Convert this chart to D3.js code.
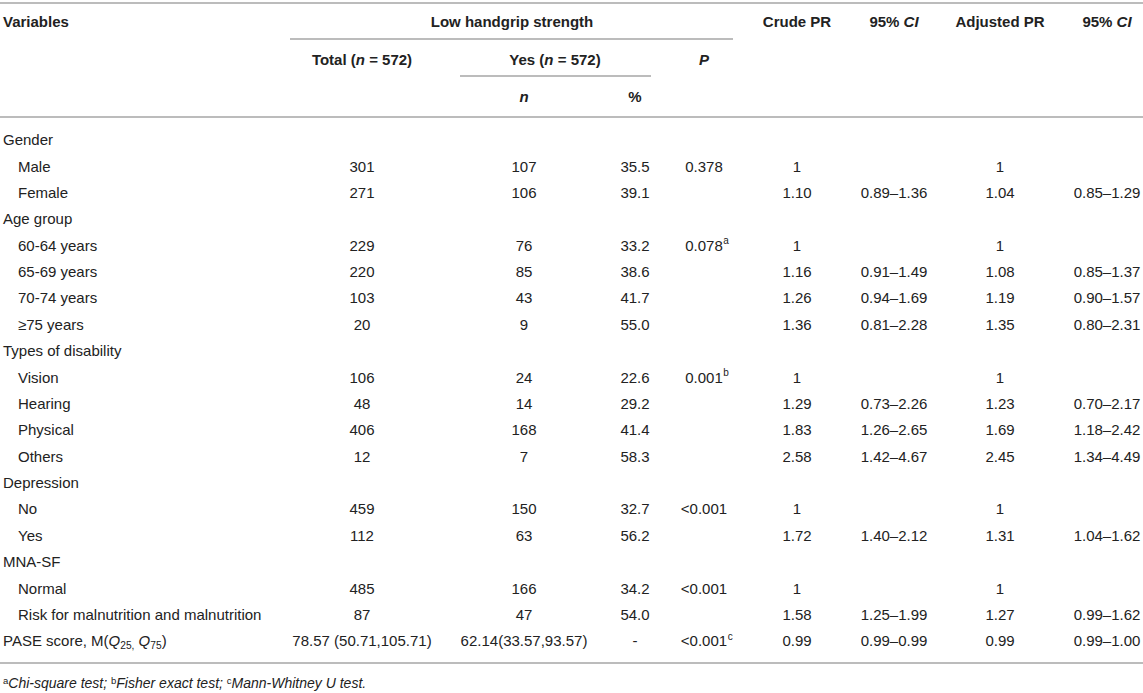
<!DOCTYPE html>
<html lang="en">
<head>
<meta charset="UTF-8">
<title>Low handgrip strength</title>
<script src="https://cdn.jsdelivr.net/npm/d3@7/dist/d3.min.js"></script>
<style>
  body { margin: 0; background: #fff; }
  svg text { font-family: "Liberation Sans", Arial, Helvetica, sans-serif; fill: #222; }
</style>
</head>
<body>
<div class="chart"></div>
<script>
// rows of the table
const labels = ["Gender", "Male", "Female", "Age group", "60-64 years", "65-69 years", "70-74 years", "\u226575 years",
  "Types of disability", "Vision", "Hearing", "Physical", "Others", "Depression", "No", "Yes",
  "MNA-SF", "Normal", "Risk for malnutrition and malnutrition", "PASE"];
const indent = [0, 1, 1, 0, 1, 1, 1, 1, 0, 1, 1, 1, 1, 0, 1, 1, 0, 1, 1, 0];

const total   = ["", "301", "271", "", "229", "220", "103", "20", "", "106", "48", "406", "12", "", "459", "112", "", "485", "87", "78.57 (50.71,105.71)"];
const yesN    = ["", "107", "106", "", "76", "85", "43", "9", "", "24", "14", "168", "7", "", "150", "63", "", "166", "47", "62.14(33.57,93.57)"];
const yesPct  = ["", "35.5", "39.1", "", "33.2", "38.6", "41.7", "55.0", "", "22.6", "29.2", "41.4", "58.3", "", "32.7", "56.2", "", "34.2", "54.0", "-"];
const pValue  = ["", "0.378", "", "", "0.078", "", "", "", "", "0.001", "", "", "", "", "<0.001", "", "", "<0.001", "", "<0.001"];
const pNote   = ["", "", "", "", "a", "", "", "", "", "b", "", "", "", "", "", "", "", "", "", "c"];
const crudePR = ["", "1", "1.10", "", "1", "1.16", "1.26", "1.36", "", "1", "1.29", "1.83", "2.58", "", "1", "1.72", "", "1", "1.58", "0.99"];
const crudeCI = ["", "", "0.89\u20131.36", "", "", "0.91\u20131.49", "0.94\u20131.69", "0.81\u20132.28", "", "", "0.73\u20132.26", "1.26\u20132.65", "1.42\u20134.67", "", "", "1.40\u20132.12", "", "", "1.25\u20131.99", "0.99\u20130.99"];
const adjPR   = ["", "1", "1.04", "", "1", "1.08", "1.19", "1.35", "", "1", "1.23", "1.69", "2.45", "", "1", "1.31", "", "1", "1.27", "0.99"];
const adjCI   = ["", "", "0.85\u20131.29", "", "", "0.85\u20131.37", "0.90\u20131.57", "0.80\u20132.31", "", "", "0.70\u20132.17", "1.18\u20132.42", "1.34\u20134.49", "", "", "1.04\u20131.62", "", "", "0.99\u20131.62", "0.99\u20131.00"];

const colKeys = ["total", "n", "pct", "p", "crude", "ci1", "adj", "ci2"];
const columns = [total, yesN, yesPct, pValue, crudePR, crudeCI, adjPR, adjCI];

const W = 1143, H = 693;
const svg = d3.select('.chart').append('svg').attr('width', W).attr('height', H);

const xCol = d3.scaleOrdinal().domain(colKeys).range([362, 524, 635, 704, 797, 894, 1000, 1107]);
const yRow = d3.scalePoint().domain(d3.range(labels.length)).range([140, 641]);

const lineColor = '#a6a6a6';
function hline(x1, x2, y) {
  svg.append('line').attr('x1', x1).attr('x2', x2).attr('y1', y).attr('y2', y)
    .attr('stroke', lineColor).attr('stroke-width', 1.5);
}

// text made of parts: [string, {italic, sub, sup}]
function rich(x, y, parts, opt = {}) {
  const t = svg.append('text').attr('x', x).attr('y', y).attr('dy', '0.35em')
    .attr('text-anchor', opt.anchor || 'start')
    .attr('font-size', opt.size || 15)
    .attr('font-weight', opt.bold ? 'bold' : 'normal');
  parts.forEach(([s, st = {}]) => {
    const ts = t.append('tspan').text(s);
    if (st.italic) ts.attr('font-style', 'italic');
    if (st.sub) ts.attr('font-size', '0.68em').attr('baseline-shift', '-25%');
    if (st.sup) ts.attr('font-size', '0.68em').attr('baseline-shift', '40%');
  });
  return t;
}

// header
hline(0, W, 3);
rich(3, 22, [["Variables"]], {bold: true});
rich(512, 22, [["Low handgrip strength"]], {bold: true, anchor: 'middle'});
hline(290, 733, 39);
rich(xCol('total'), 60, [["Total ("], ["n", {italic: true}], [" = 572)"]], {bold: true, anchor: 'middle'});
rich(555, 60, [["Yes ("], ["n", {italic: true}], [" = 572)"]], {bold: true, anchor: 'middle'});
rich(xCol('p'), 60, [["P", {italic: true}]], {bold: true, anchor: 'middle'});
hline(460, 651, 76);
rich(xCol('n'), 97, [["n", {italic: true}]], {bold: true, anchor: 'middle'});
rich(xCol('pct'), 97, [["%"]], {bold: true, anchor: 'middle'});
rich(xCol('crude'), 22, [["Crude PR"]], {bold: true, anchor: 'middle'});
rich(xCol('ci1'), 22, [["95% "], ["CI", {italic: true}]], {bold: true, anchor: 'middle'});
rich(xCol('adj'), 22, [["Adjusted PR"]], {bold: true, anchor: 'middle'});
rich(xCol('ci2'), 22, [["95% "], ["CI", {italic: true}]], {bold: true, anchor: 'middle'});
hline(0, W, 117);

// row labels
labels.forEach((lab, i) => {
  const x = indent[i] ? 18 : 3;
  if (lab === "PASE") {
    rich(x, yRow(i), [["PASE score, M("], ["Q", {italic: true}], ["25,", {sub: true}], [" "], ["Q", {italic: true}], ["75", {sub: true}], [")"]]);
  } else {
    rich(x, yRow(i), [[lab]]);
  }
});

// body cells
columns.forEach((col, c) => {
  svg.append('g').selectAll('text').data(col).join('text')
    .attr('x', xCol(colKeys[c])).attr('y', (d, i) => yRow(i)).attr('dy', '0.35em')
    .attr('text-anchor', 'middle').attr('font-size', 15)
    .text(d => d)
    .each(function (d, i) {
      if (colKeys[c] === 'p' && pNote[i]) {
        const len = this.getComputedTextLength();
        svg.append('text').attr('x', xCol('p') + len / 2 + 0.5).attr('y', yRow(i) - 1)
          .attr('font-size', 10).text(pNote[i]);
      }
    });
});

hline(0, W, 663);

// footnote
rich(3, 683, [["a", {sup: true}], ["Chi-square test; ", {italic: true}], ["b", {sup: true}], ["Fisher exact test; ", {italic: true}],
  ["c", {sup: true}], ["Mann-Whitney U test.", {italic: true}]], {size: 14});
</script>
</body>
</html>
